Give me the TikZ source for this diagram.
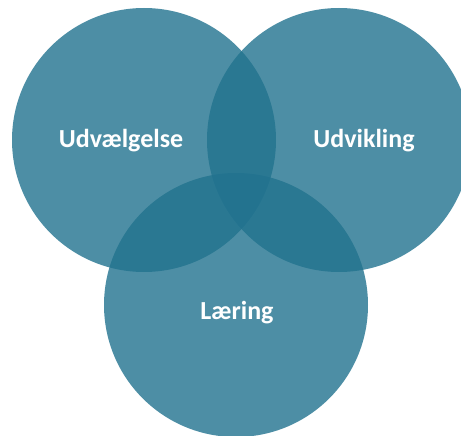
\documentclass[tikz,border=0pt]{standalone}
\usepackage{fontspec}
\setmainfont{Carlito}
\definecolor{venn}{RGB}{33,114,142}
\begin{document}
\begin{tikzpicture}[x=1pt,y=-1pt,
  vennc/.style={circle, fill=venn, fill opacity=0.8, draw=none, minimum size=264pt, inner sep=0pt},
  lbl/.style={anchor=base, text=white, font=\fontsize{26}{30}\selectfont\bfseries, text opacity=1}]
\useasboundingbox (0,0) rectangle (461,436);
\clip (0,0) rectangle (461,436);
\node[vennc] (left) at (144,140) {};
\node[vennc] (right) at (339,140) {};
\node[vennc] (bottom) at (236,305) {};
\node[lbl] (t1) at (121,147) {Udvælgelse};
\node[lbl] (t2) at (364,147) {Udvikling};
\node[lbl] (t3) at (237,319) {Læring};
\end{tikzpicture}
\end{document}
